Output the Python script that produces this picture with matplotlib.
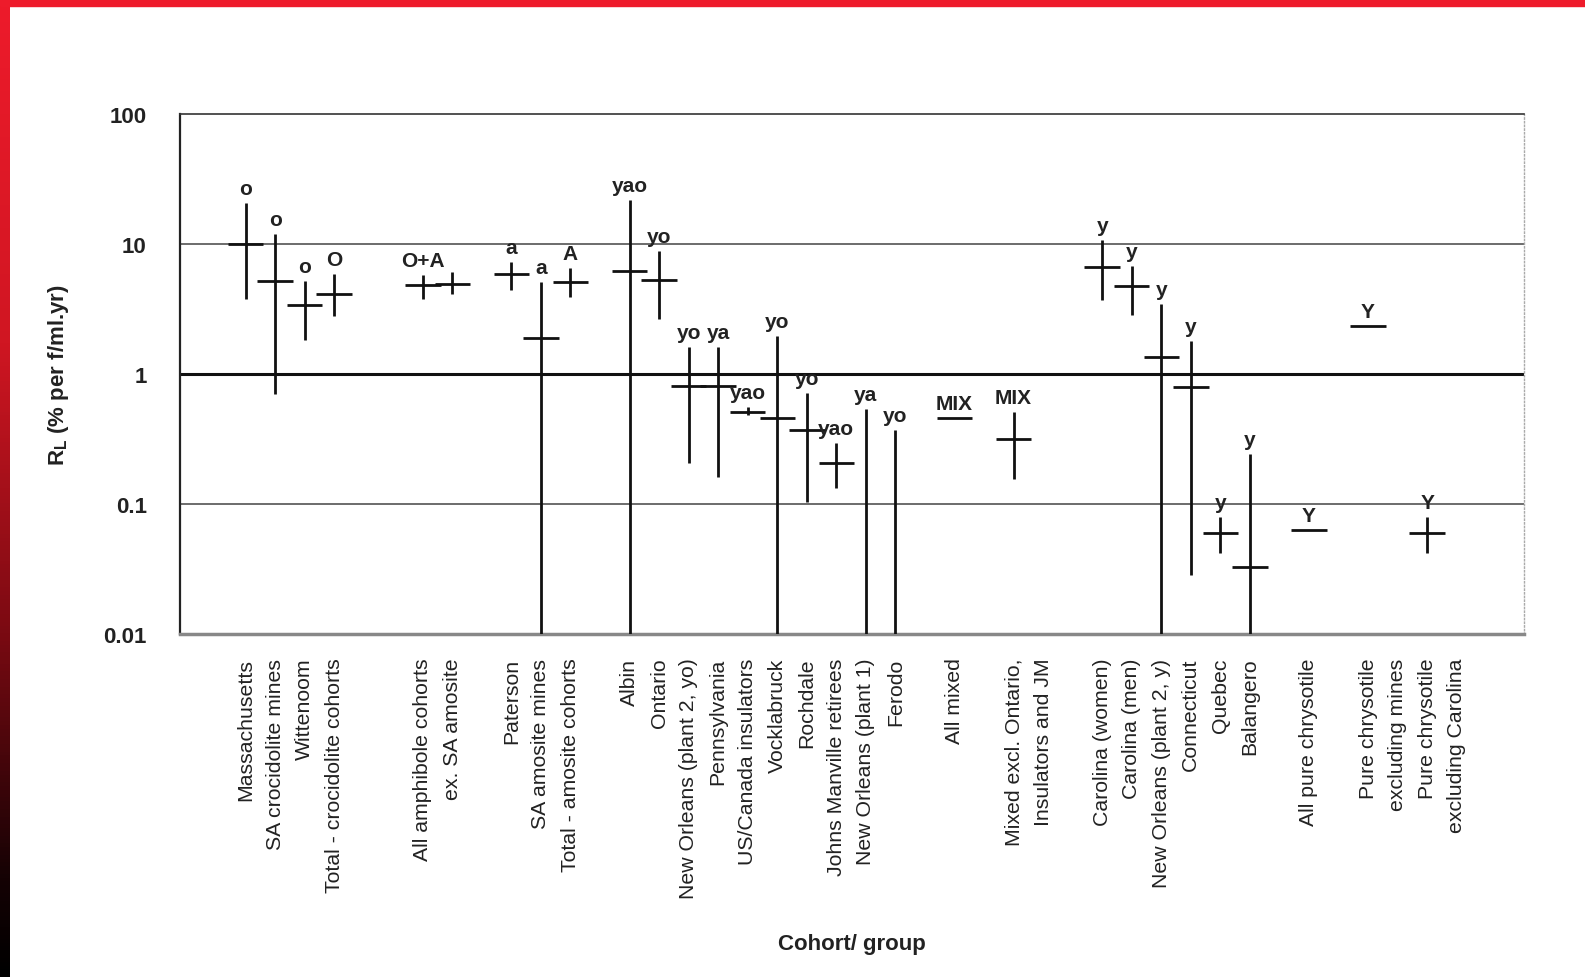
import numpy as np
import matplotlib
matplotlib.use("Agg")
import matplotlib.pyplot as plt
from matplotlib.colors import LinearSegmentedColormap

plt.rcParams['font.family'] = ['Liberation Sans', 'DejaVu Sans']

# one slot per category position, '' = empty slot
categories = ["Massachusetts", "SA crocidolite mines", "Wittenoom", "Total - crocidolite cohorts",
              "", "", "All amphibole cohorts", "ex. SA amosite", "",
              "Paterson", "SA amosite mines", "Total - amosite cohorts", "",
              "Albin", "Ontario", "New Orleans (plant 2, yo)", "Pennsylvania", "US/Canada insulators",
              "Vocklabruck", "Rochdale", "Johns Manville retirees", "New Orleans (plant 1)", "Ferodo",
              "", "All mixed", "", "Mixed excl. Ontario,", "Insulators and JM", "",
              "Carolina (women)", "Carolina (men)", "New Orleans (plant 2, y)", "Connecticut",
              "Quebec", "Balangero", "", "All pure chrysotile", "",
              "Pure chrysotile", "excluding mines", "Pure chrysotile", "excluding Carolina"]

# estimates plotted (slot index, central value, lower, upper, fibre label)
slot = [0, 1, 2, 3, 6, 7, 9, 10, 11, 13, 14, 15, 16, 17, 18, 19, 20, 21, 22,
        24, 26, 29, 30, 31, 32, 33, 34, 36, 38, 40]
r_l = [10.0, 5.2, 3.4, 4.1, 4.8, 4.9, 5.9, 1.9, 5.1, 6.2, 5.3, 0.81, 0.81, 0.51, 0.46, 0.37, 0.207, 0.004, 0.004,
       0.46, 0.315, 6.7, 4.76, 1.36, 0.80, 0.060, 0.033, 0.063, 2.36, 0.060]
low = [3.8, 0.70, 1.82, 2.8, 3.8, 4.1, 4.4, 0.004, 3.9, 0.004, 2.63, 0.205, 0.162, 0.48, 0.004, 0.103, 0.133, 0.004, 0.004,
       0.46, 0.156, 3.69, 2.83, 0.004, 0.0284, 0.0423, 0.004, 0.063, 2.36, 0.042]
high = [20.8, 11.9, 5.2, 5.9, 5.8, 6.1, 7.3, 5.1, 6.5, 21.9, 8.8, 1.61, 1.61, 0.56, 1.96, 0.72, 0.296, 0.54, 0.37,
        0.46, 0.51, 10.7, 6.76, 3.48, 1.81, 0.079, 0.244, 0.063, 2.36, 0.079]
fibre = ["o", "o", "o", "O", "O+A", "", "a", "a", "A", "yao", "yo", "yo", "ya", "yao", "yo", "yo", "yao", "ya", "yo",
         "MIX", "MIX", "y", "y", "y", "y", "y", "y", "Y", "Y", "Y"]

fig = plt.figure(figsize=(15.85, 9.78), dpi=100)
ax = fig.add_axes([180 / 1585, 1 - 635 / 978, 1344 / 1585, 520 / 978])

x = np.array(slot, dtype=float)
c = np.array(r_l)
lo = np.array(low)
hi = np.array(high)
ax.errorbar(x, c, yerr=[c - lo, hi - c], xerr=0.6, fmt='none', ecolor='#111111',
            elinewidth=2.0, capsize=0, zorder=3)

for xi, h, lab in zip(x, hi, fibre):
    if lab:
        ax.annotate(lab, (xi, h), xytext=(0, 3.5), textcoords='offset points',
                    ha='center', va='bottom', fontsize=15, fontweight='bold', color='#222222')

ax.set_yscale('log')
ax.set_ylim(0.01, 100)
ax.set_xlim(-2.22, 43.28)
ax.set_yticks([0.01, 0.1, 1, 10, 100])
ax.set_yticklabels(["0.01", "0.1", "1", "10", "100"], fontsize=16, fontweight='bold', color='#222222')
ax.minorticks_off()
ax.set_xticks(range(len(categories)))
ax.set_xticklabels(categories, rotation=90, fontsize=15.3, color='#222222')
ax.tick_params(axis='both', length=0)
ax.tick_params(axis='x', pad=17)
ax.tick_params(axis='y', pad=24)

ax.axhline(10, color='#444444', lw=1.1, zorder=1)
ax.axhline(1, color='#111111', lw=2.2, zorder=1)
ax.axhline(0.1, color='#444444', lw=1.1, zorder=1)

ax.spines['left'].set_color('#222222')
ax.spines['left'].set_linewidth(1.6)
ax.spines['top'].set_color('#333333')
ax.spines['top'].set_linewidth(1.2)
ax.spines['bottom'].set_color('#888888')
ax.spines['bottom'].set_linewidth(2.5)
ax.spines['right'].set_color('#aaaaaa')
ax.spines['right'].set_linewidth(1)
ax.spines['right'].set_linestyle(':')

ax.set_ylabel(r'R$_\mathregular{L}$ (% per f/ml.yr)', fontsize=16, fontweight='bold', color='#222222')
ax.yaxis.set_label_coords(-0.081, 0.5)
ax.set_xlabel('Cohort/ group', fontsize=16, fontweight='bold', color='#222222')
ax.xaxis.set_label_coords(0.5, -0.575)

# red frame of the scan: top bar and left bar fading to black
fig.patches.append(plt.Rectangle((0, 1 - 7 / 978), 1, 7 / 978, transform=fig.transFigure,
                                 color='#ee1b2b', zorder=0))
bar = fig.add_axes([0, 0, 10 / 1585, 1])
cmap = LinearSegmentedColormap.from_list('edge', [(0, '#ee1b2b'), (0.35, '#d01622'),
                                                  (0.65, '#7a0a12'), (0.9, '#150204'), (1, '#000000')])
bar.imshow(np.linspace(0, 1, 256).reshape(-1, 1), aspect='auto', cmap=cmap, extent=(0, 1, 0, 1))
bar.set_axis_off()

fig.savefig('out.png', dpi=100)
